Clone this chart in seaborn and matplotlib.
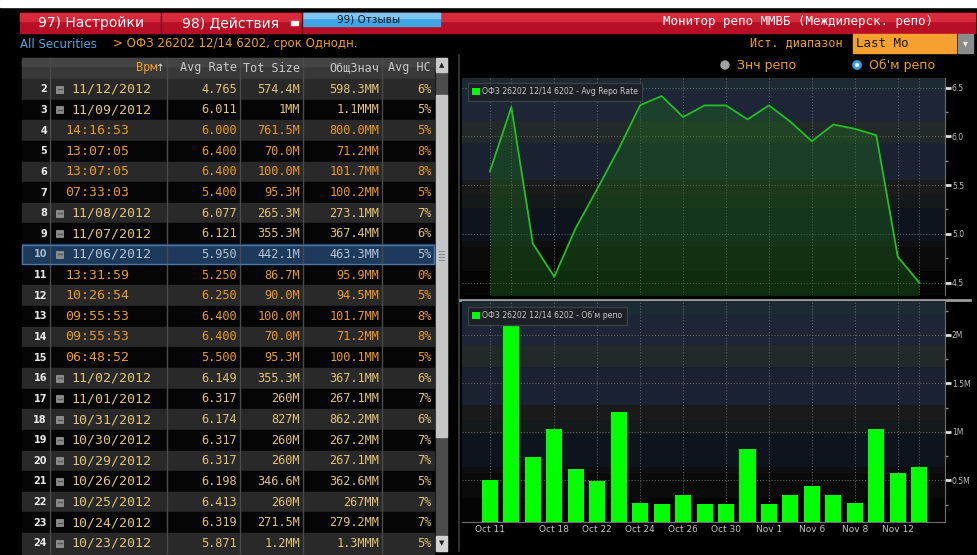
import numpy as np
import pandas as pd
import matplotlib
matplotlib.use("Agg")
import matplotlib.pyplot as plt
import seaborn as sns
from matplotlib.patches import Rectangle, Patch, Circle

# --- chart data ---
chart_dates = ["Oct 11", "Oct 12", "Oct 16", "Oct 18", "Oct 19", "Oct 22", "Oct 23",
               "Oct 24", "Oct 25", "Oct 26", "Oct 29", "Oct 30", "Oct 31", "Nov 1",
               "Nov 2", "Nov 6", "Nov 7", "Nov 8", "Nov 9", "Nov 12", "Nov 13"]
avg_repo_rate = [5.64, 6.30, 4.90, 4.56, 5.06, 5.46, 5.871, 6.319, 6.413, 6.198, 6.317,
                 6.317, 6.174, 6.317, 6.149, 5.950, 6.121, 6.077, 6.011, 4.765, 4.50]
repo_volume = [0.505, 2.14, 0.742, 1.028, 0.619, 0.498, 1.21, 0.2715, 0.26, 0.3466, 0.26,
               0.26, 0.827, 0.26, 0.3553, 0.4421, 0.3553, 0.2653, 1.03, 0.5744, 0.639]
label_dates = ["Oct 11", "Oct 18", "Oct 22", "Oct 24", "Oct 26", "Oct 30",
               "Nov 1", "Nov 6", "Nov 8", "Nov 12"]
grid_dates = label_dates + ["Oct 12", "Nov 13"]
rate_ticks = [4.5, 5.0, 5.5, 6.0, 6.5]
volume_ticks = [0.5, 1.0, 1.5, 2.0]
volume_tick_labels = ["0.5M", "1M", "1.5M", "2M"]

# --- table data ---
row_nums = list(range(2, 25))
row_time = ["11/12/2012", "11/09/2012", "14:16:53", "13:07:05", "13:07:05", "07:33:03",
            "11/08/2012", "11/07/2012", "11/06/2012", "13:31:59", "10:26:54", "09:55:53",
            "09:55:53", "06:48:52", "11/02/2012", "11/01/2012", "10/31/2012", "10/30/2012",
            "10/29/2012", "10/26/2012", "10/25/2012", "10/24/2012", "10/23/2012"]
row_avg_rate = ["4.765", "6.011", "6.000", "6.400", "6.400", "5.400", "6.077", "6.121",
                "5.950", "5.250", "6.250", "6.400", "6.400", "5.500", "6.149", "6.317",
                "6.174", "6.317", "6.317", "6.198", "6.413", "6.319", "5.871"]
row_tot_size = ["574.4M", "1MM", "761.5M", "70.0M", "100.0M", "95.3M", "265.3M", "355.3M",
                "442.1M", "86.7M", "90.0M", "100.0M", "70.0M", "95.3M", "355.3M", "260M",
                "827M", "260M", "260M", "346.6M", "260M", "271.5M", "1.2MM"]
row_total_value = ["598.3MM", "1.1MMM", "800.0MM", "71.2MM", "101.7MM", "100.2MM",
                   "273.1MM", "367.4MM", "463.3MM", "95.9MM", "94.5MM", "101.7MM",
                   "71.2MM", "100.1MM", "367.1MM", "267.1MM", "862.2MM", "267.2MM",
                   "267.1MM", "362.6MM", "267MM", "279.2MM", "1.3MMM"]
row_avg_hc = ["6%", "5%", "5%", "8%", "8%", "5%", "7%", "6%", "5%", "0%", "5%", "8%",
              "8%", "5%", "6%", "7%", "6%", "7%", "7%", "5%", "7%", "7%", "5%"]
selected_row = 10

W, H = 977, 555
fig = plt.figure(figsize=(W / 100, H / 100), dpi=100, facecolor="black")


def px_box(l, t, r, b):
    return [l / W, 1 - b / H, (r - l) / W, (b - t) / H]


# background canvas in pixel coords
bg = fig.add_axes([0, 0, 1, 1])
bg.set_xlim(0, W)
bg.set_ylim(H, 0)
bg.axis("off")
bg.add_patch(Rectangle((0, 0), W, H, color="black"))
bg.add_patch(Rectangle((0, 0), W, 7, color="white"))

# toolbar
bg.add_patch(Rectangle((20, 13), 955, 20, color="#b80f26"))
bg.add_patch(Rectangle((20, 13), 955, 8, color="#d92a3c"))
for x in [161, 302]:
    bg.plot([x, x], [13, 33], color="#5a0510", lw=1)
bg.add_patch(Rectangle((303, 13), 137, 13, color="#3ea6e6"))
bg.add_patch(Rectangle((303, 13), 137, 5, color="#7cc6f2"))
bg.text(91, 23, "97) Настройки", color="white", fontsize=10, ha="center", va="center")
bg.text(231, 23, "98) Действия", color="white", fontsize=10, ha="center", va="center")
bg.add_patch(Rectangle((291, 20.5), 7, 4, color="white"))
bg.text(369, 19.5, "99) Отзывы", color="#151515", fontsize=7.5, ha="center", va="center")
bg.text(933, 22, "Монитор репо ММВБ (Междилерск. репо)", color="white", fontsize=9,
        family="DejaVu Sans Mono", ha="right", va="center")

# security line
bg.text(20, 44, "All Securities", color="#4fa3e0", fontsize=8.5, va="center")
bg.text(113, 44, "> ОФЗ 26202 12/14 6202, срок Однодн.", color="#f0a020",
        fontsize=8.5, va="center")
bg.text(843, 43, "Ист. диапазон", color="#f0a020", fontsize=8.5,
        family="DejaVu Sans Mono", ha="right", va="center")
bg.add_patch(Rectangle((853, 34), 103, 19, color="#f5a030"))
bg.text(856, 43.5, "Last Mo", color="#1a1a1a", fontsize=9, family="DejaVu Sans Mono",
        va="center")
bg.add_patch(Rectangle((958, 34), 15, 19, color="#8c8c8c"))
bg.text(965.5, 43.5, "▾", color="#eeeeee", fontsize=7, ha="center", va="center")

# radio buttons
bg.add_patch(Circle((725, 65), 4, color="#a0a0a0"))
bg.text(737, 65, "Знч репо", color="#f0a020", fontsize=9, va="center")
bg.add_patch(Circle((857, 65), 3.5, facecolor="#e8f4ff", edgecolor="#3aa0e0", lw=2))
bg.text(869, 65, "Об'м репо", color="#f0a020", fontsize=9, va="center")

# --- table ---
col_edges = [22, 50, 167, 240, 303, 382, 434]
bg.add_patch(Rectangle((22, 58), 412, 20, color="#383838"))
bg.add_patch(Rectangle((22, 58), 412, 8, color="#444444"))
bg.text(157, 68, "Врм", color="#f09a20", fontsize=8.5, family="DejaVu Sans Mono",
        ha="right", va="center")
bg.text(160.5, 68, "↑", color="#dddddd", fontsize=7.5, ha="center", va="center")
for txt, x in zip(["Avg Rate", "Tot Size", "ОбщЗнач", "Avg HC"], [237, 300, 379, 431]):
    bg.text(x, 68, txt, color="#c8c8c8", fontsize=8.5, family="DejaVu Sans Mono",
            ha="right", va="center")

row_h = 20.64
top = 79
for i, num in enumerate(row_nums):
    y0 = top + i * row_h
    yc = y0 + row_h / 2
    is_day = "/" in row_time[i]
    face = "#292929" if num % 2 == 0 else "#050505"
    txt_col = "#e3c57a" if is_day else "#eb9a25"
    num_col = "#e8e8e8"
    if num == selected_row:
        face = "#1d3a5c"
        txt_col = "#b4c4d4"
        num_col = "#a8bcd4"
    bg.add_patch(Rectangle((22, y0), 412, row_h, color=face, zorder=1))
    if num == selected_row:
        bg.add_patch(Rectangle((22, y0 + 0.5), 412, row_h - 1, fill=False,
                               edgecolor="#4a78a8", lw=1, zorder=3))
    bg.text(47, yc, str(num), color=num_col, fontsize=7, weight="bold",
            ha="right", va="center", zorder=4)
    if is_day:
        bg.add_patch(Rectangle((56, yc - 3.5), 7, 7, facecolor="#8a8a8a",
                               edgecolor="#a0a0a0", lw=0.5, zorder=4))
        bg.plot([57.5, 61.5], [yc, yc], color="#5a5a5a", lw=1, zorder=5)
        bg.text(71, yc, row_time[i], color=txt_col, fontsize=9.5,
                family="DejaVu Sans Mono", va="center", zorder=4)
    else:
        bg.text(65, yc, row_time[i], color=txt_col, fontsize=9.5,
                family="DejaVu Sans Mono", va="center", zorder=4)
    for vals, x in zip([row_avg_rate, row_tot_size, row_total_value, row_avg_hc],
                       [237, 300, 379, 431]):
        bg.text(x, yc, vals[i], color=txt_col, fontsize=8.6, family="DejaVu Sans Mono",
                ha="right", va="center", zorder=4)
for x in col_edges[1:-1]:
    bg.plot([x, x], [58, 553], color="#4a4a4a", lw=1, zorder=2)

# scrollbar
bg.add_patch(Rectangle((436, 58), 11, 493, color="#4c4c4c", zorder=2))
bg.add_patch(Rectangle((436, 58), 11, 14, color="#cacaca", zorder=3))
bg.text(441.5, 65, "▲", color="#222222", fontsize=5, ha="center", va="center", zorder=4)
bg.add_patch(Rectangle((436, 95), 11, 342, color="#c6c6c6", zorder=3))
for k in range(4):
    bg.plot([439, 444], [251 + 3 * k, 251 + 3 * k], color="#8a8a8a", lw=0.8, zorder=4)
bg.add_patch(Rectangle((436, 536), 11, 15, color="#d4d4d4", zorder=3))
bg.text(441.5, 543, "▼", color="#222222", fontsize=5, ha="center", va="center", zorder=4)

# chart panel frame
bg.plot([459, 459], [55, 551], color="#3c3c3c", lw=1.2)
bg.plot([460, 970], [299.5, 299.5], color="#9a9a9a", lw=2)

# --- charts ---
df = pd.DataFrame({"date": chart_dates, "pos": np.arange(len(chart_dates)),
                   "rate": avg_repo_rate, "volume": repo_volume})
grid_pos = df.loc[df["date"].isin(grid_dates), "pos"].tolist()
grid_labels = [d if d in label_dates else "" for d in df.loc[df["date"].isin(grid_dates), "date"]]

bands = [(0.00, 0.06, "#1c2a33"), (0.06, 0.20, "#1d2537"), (0.20, 0.30, "#212a28"),
         (0.30, 0.47, "#1a2130"), (0.47, 0.54, "#1b1a1a"), (0.54, 0.60, "#141a1a"),
         (0.60, 0.75, "#0e141d"), (0.75, 0.78, "#0f0f12"), (0.78, 0.89, "#0a0a0a"),
         (0.89, 1.00, "#040404")]


def style_axis(ax, yticks, ylabels, ylim):
    ax.set_facecolor("black")
    for a, b, c in bands:
        ax.add_patch(Rectangle((0, 1 - b), 1, b - a, transform=ax.transAxes,
                               color=c, zorder=0, lw=0))
    ax.set_axisbelow(True)
    ax.set_xlim(-1.3, 21.2)
    ax.set_ylim(*ylim)
    ax.yaxis.tick_right()
    ax.set_yticks(yticks)
    ax.set_yticklabels(ylabels)
    minor = [v + (yticks[1] - yticks[0]) / 2 for v in [yticks[0] - (yticks[1] - yticks[0])] + yticks]
    ax.set_yticks([m for m in minor if ylim[0] < m < ylim[1]], minor=True)
    ax.tick_params(axis="y", which="major", length=4, width=2, color="#e0e0e0",
                   labelsize=5.5, labelcolor="#bdbdbd", pad=1)
    ax.tick_params(axis="y", which="minor", length=2.5, width=1, color="#8a8a8a")
    ax.grid(True, which="major", ls=(0, (1, 2)), color="#6c6c6c", lw=0.7)
    ax.set_xlabel("")
    ax.set_ylabel("")
    for s in ["top", "left"]:
        ax.spines[s].set_visible(False)
    ax.spines["right"].set_color("#6e6e6e")


legend_kw = dict(loc="upper left", fontsize=5.6, facecolor="#1c2127",
                 edgecolor="#3a3f45", labelcolor="#c8c8c8", framealpha=1, fancybox=False,
                 handlelength=1.0, handleheight=1.0, handletextpad=0.3, borderpad=0.55)

ax1 = fig.add_axes(px_box(462, 78, 945, 295))
ax1.fill_between(df["pos"], df["rate"], 4.0, color="#1f6b1f", alpha=0.4, zorder=2, lw=0)
sns.lineplot(data=df, x="pos", y="rate", ax=ax1, color="#22c022", lw=1.3, zorder=5)
style_axis(ax1, rate_ticks, [f"{v:.1f}" for v in rate_ticks], (4.373, 6.598))
ax1.spines["bottom"].set_visible(False)
ax1.set_xticks(grid_pos)
ax1.set_xticklabels([])
ax1.tick_params(axis="x", length=0)
ax1.legend(handles=[Patch(facecolor="#00ff00")],
           labels=["ОФЗ 26202 12/14 6202 - Avg Repo Rate"],
           bbox_to_anchor=(0.004, 0.995), **legend_kw)

ax2 = fig.add_axes(px_box(462, 301, 945, 522))
sns.barplot(data=df, x="pos", y="volume", ax=ax2, color="#00ff00", saturation=1,
            width=0.75, native_scale=True, zorder=3)
style_axis(ax2, volume_ticks, volume_tick_labels, (0.072, 2.35))
ax2.spines["bottom"].set_color("#6e6e6e")
ax2.set_xticks(grid_pos)
ax2.set_xticklabels(grid_labels)
ax2.tick_params(axis="x", length=0, labelsize=6.5, labelcolor="#c4c4c4", pad=2)
ax2.legend(handles=[Patch(facecolor="#00ff00")],
           labels=["ОФЗ 26202 12/14 6202 - Об'м репо"],
           bbox_to_anchor=(0.004, 0.99), **legend_kw)

fig.savefig("out.png", dpi=100, facecolor="black")
